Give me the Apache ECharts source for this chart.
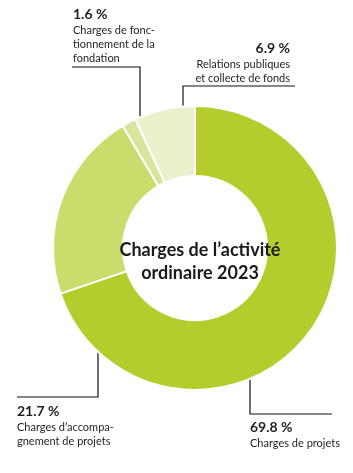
<!DOCTYPE html>
<html>
<head>
<meta charset="utf-8">
<script src="https://cdn.jsdelivr.net/npm/echarts@6/dist/echarts.min.js"></script>
<style>
  html, body { margin: 0; padding: 0; background: #fff; }
  #chart { width: 353px; height: 473px; }
</style>
</head>
<body>
<div id="chart"></div>
<script>
// donnees
const percents = [69.8, 21.7, 1.6, 6.9];
const percentLabels = ["69.8 %", "21.7 %", "1.6 %", "6.9 %"];
const names = [
  ["Charges de projets"],
  ["Charges d’accompa-", "gnement de projets"],
  ["Charges de fonc-", "tionnement de la", "fondation"],
  ["Relations publiques", "et collecte de fonds"]
];
const colors = ["#b4cc2c", "#c9dc6c", "#d7e69c", "#e9f1cd"];

// position des etiquettes + lignes de rappel
const labelPos = [
  { x: 250, y: 418, align: "left", line: [[250, 349], [250, 414], [332, 414]] },
  { x: 17, y: 402, align: "left", line: [[98, 237], [98, 397], [17, 397]] },
  { x: 73, y: 5, align: "left", line: [[140, 136], [140, 67], [72, 67]] },
  { x: 290, y: 39, align: "right", line: [[183, 145], [183, 86], [295, 86]] }
];

let chart = echarts.init(document.getElementById("chart"));

let option = {
  title: {
    text: "Charges de l’activité\nordinaire 2023",
    left: 195,
    top: 234,
    textAlign: "center",
    textStyle: {
      fontFamily: "Lato",
      fontSize: 18,
      fontWeight: "bold",
      lineHeight: 23,
      color: "#1a1a1a"
    }
  },
  series: [
    {
      type: "pie",
      center: [195, 248],
      radius: [72, 142],
      startAngle: 90,
      clockwise: true,
      avoidLabelOverlap: false,
      animation: false,
      itemStyle: { borderColor: "#fff", borderWidth: 2 },
      data: percents.map((v, i) => ({
        value: v,
        itemStyle: { color: colors[i] },
        label: {
          formatter: "{p|" + percentLabels[i] + "}\n" + names[i].map(s => "{t|" + s + "}").join("\n"),
          align: labelPos[i].align
        }
      })),
      label: {
        show: true,
        position: "outside",
        fontFamily: "Lato",
        color: "#1f1f1f",
        rich: {
          p: { fontFamily: "Lato", fontSize: 14, fontWeight: "bold", lineHeight: 18, color: "#1f1f1f" },
          t: { fontFamily: "Lato", fontSize: 11, lineHeight: 14, color: "#1f1f1f" }
        }
      },
      labelLine: {
        show: true,
        lineStyle: { color: "#111", width: 1.2 }
      },
      labelLayout: function (params) {
        let p = labelPos[params.dataIndex];
        return {
          x: p.x,
          y: p.y,
          align: p.align,
          verticalAlign: "top",
          labelLinePoints: p.line
        };
      }
    }
  ]
};

chart.setOption(option);
</script>
</body>
</html>
